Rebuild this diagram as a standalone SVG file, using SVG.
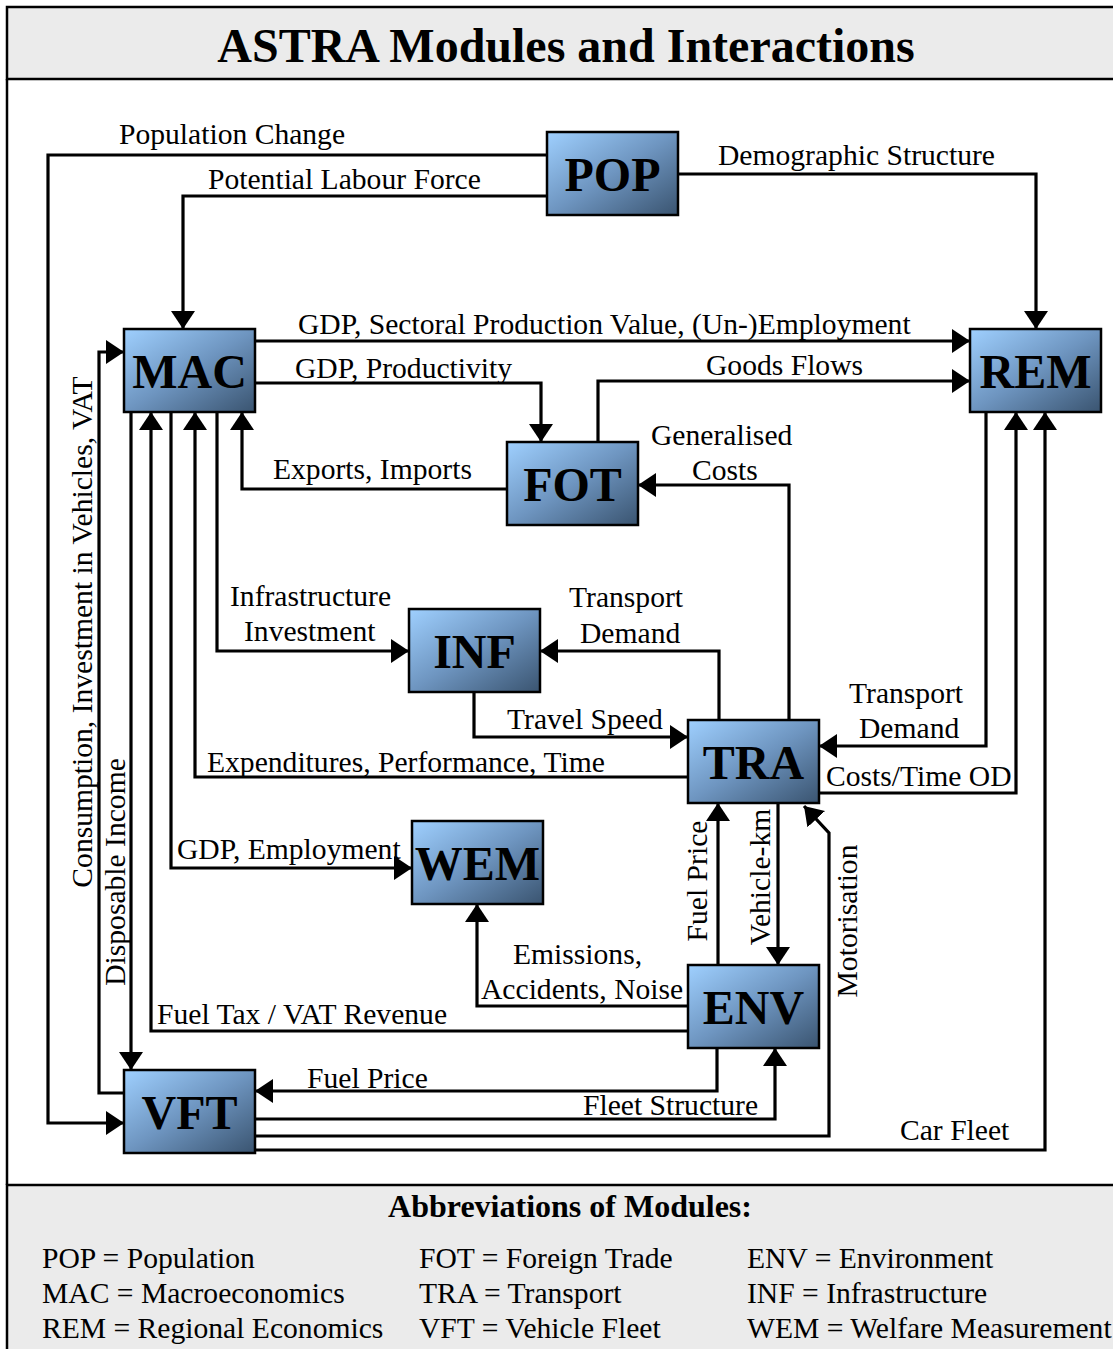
<svg xmlns="http://www.w3.org/2000/svg" width="1113" height="1349" viewBox="0 0 1113 1349">
<defs>
<linearGradient id="boxg" x1="0" y1="0" x2="1" y2="1">
<stop offset="0" stop-color="#9fd0ff"/>
<stop offset="0.5" stop-color="#6e95c0"/>
<stop offset="1" stop-color="#3a5470"/>
</linearGradient>
<marker id="arr" markerUnits="userSpaceOnUse" markerWidth="19" markerHeight="25" refX="18" refY="12" orient="auto">
<path d="M0,0 L18,12 L0,24 Z" fill="#000"/>
</marker>
</defs>
<style>
.box{fill:url(#boxg);stroke:#000;stroke-width:2.5}
.nl{font-family:"Liberation Serif","Times New Roman",serif;font-weight:bold;font-size:48px;text-anchor:middle;fill:#000}
.lb{font-family:"Liberation Serif","Times New Roman",serif;font-size:29.6px;fill:#000}
.c{fill:none;stroke:#000;stroke-width:3.2;marker-end:url(#arr)}
.frame{fill:#ebebeb;stroke:#000;stroke-width:2.5}
</style>
<rect x="0" y="0" width="1113" height="1349" fill="#fff"/>
<rect class="frame" x="7" y="7" width="1120" height="72"/>
<text x="566" y="62" font-family="'Liberation Serif','Times New Roman',serif" font-weight="bold" font-size="48" text-anchor="middle">ASTRA Modules and Interactions</text>
<line x1="7" y1="79" x2="7" y2="1185" stroke="#000" stroke-width="2.5"/>
<rect class="frame" x="7" y="1185" width="1120" height="180"/>
<g id="legend">
<text x="570" y="1217" font-family="'Liberation Serif','Times New Roman',serif" font-weight="bold" font-size="32" text-anchor="middle">Abbreviations of Modules:</text>
<text class="lb" x="42" y="1268">POP = Population</text>
<text class="lb" x="42" y="1303">MAC = Macroeconomics</text>
<text class="lb" x="42" y="1338">REM = Regional Economics</text>
<text class="lb" x="419" y="1268">FOT = Foreign Trade</text>
<text class="lb" x="419" y="1303">TRA = Transport</text>
<text class="lb" x="419" y="1338">VFT = Vehicle Fleet</text>
<text class="lb" x="747" y="1268">ENV = Environment</text>
<text class="lb" x="747" y="1303">INF = Infrastructure</text>
<text class="lb" x="747" y="1338">WEM = Welfare Measurement</text>
</g>
<g id="connectors">
<path class="c" d="M547,155 H48 V1123 H124"/>
<path class="c" d="M547,196 H183 V329"/>
<path class="c" d="M678,174 H1036 V329"/>
<path class="c" d="M255,341 H970"/>
<path class="c" d="M255,383 H541 V442"/>
<path class="c" d="M598,442 V381 H970"/>
<path class="c" d="M507,489 H242 V412"/>
<path class="c" d="M789,720 V485 H638"/>
<path class="c" d="M217,412 V651 H409"/>
<path class="c" d="M719,720 V651 H540"/>
<path class="c" d="M474,692 V737 H688"/>
<path class="c" d="M688,777 H195 V412"/>
<path class="c" d="M986,412 V746 H819"/>
<path class="c" d="M819,793 H1016 V412"/>
<path class="c" d="M171,412 V868 H412"/>
<path class="c" d="M688,1006 H477 V904"/>
<path class="c" d="M688,1031 H151 V412"/>
<path class="c" d="M131,412 V1070"/>
<path class="c" d="M124,1093 H99 V352 H124"/>
<path class="c" d="M718,965 V803"/>
<path class="c" d="M778,803 V965"/>
<path class="c" d="M255,1136 H829 V833 L804,806"/>
<path class="c" d="M717,1048 V1091 H255"/>
<path class="c" d="M255,1119 H775 V1048"/>
<path class="c" d="M255,1150 H1045 V412"/>
<text class="lb" x="119" y="144">Population Change</text>
<text class="lb" x="208" y="189">Potential Labour Force</text>
<text class="lb" x="718" y="165">Demographic Structure</text>
<text class="lb" x="298" y="334">GDP, Sectoral Production Value, (Un-)Employment</text>
<text class="lb" x="295" y="378">GDP, Productivity</text>
<text class="lb" x="706" y="375">Goods Flows</text>
<text class="lb" x="273" y="479">Exports, Imports</text>
<text class="lb" x="651" y="445">Generalised</text>
<text class="lb" x="692" y="480">Costs</text>
<text class="lb" x="230" y="606">Infrastructure</text>
<text class="lb" x="244" y="641">Investment</text>
<text class="lb" x="569" y="607">Transport</text>
<text class="lb" x="580" y="643">Demand</text>
<text class="lb" x="507" y="729">Travel Speed</text>
<text class="lb" x="207" y="772">Expenditures, Performance, Time</text>
<text class="lb" x="849" y="703">Transport</text>
<text class="lb" x="859" y="738">Demand</text>
<text class="lb" x="826" y="786">Costs/Time OD</text>
<text class="lb" x="177" y="859">GDP, Employment</text>
<text class="lb" x="513" y="964">Emissions,</text>
<text class="lb" x="481" y="999">Accidents, Noise</text>
<text class="lb" x="157" y="1024">Fuel Tax / VAT Revenue</text>
<text class="lb" x="307" y="1088">Fuel Price</text>
<text class="lb" x="583" y="1115">Fleet Structure</text>
<text class="lb" x="900" y="1140">Car Fleet</text>
<text class="lb" text-anchor="middle" transform="translate(92,632) rotate(-90)">Consumption, Investment in Vehicles, VAT</text>
<text class="lb" text-anchor="middle" transform="translate(125,872) rotate(-90)">Disposable Income</text>
<text class="lb" text-anchor="middle" transform="translate(707,881) rotate(-90)">Fuel Price</text>
<text class="lb" text-anchor="middle" transform="translate(770,877) rotate(-90)">Vehicle-km</text>
<text class="lb" text-anchor="middle" transform="translate(857,921) rotate(-90)">Motorisation</text>
</g>
<g id="POP"><rect class="box" x="547" y="132" width="131" height="83"/><text class="nl" x="612.5" y="191">POP</text></g>
<g id="MAC"><rect class="box" x="124" y="329" width="131" height="83"/><text class="nl" x="189.5" y="388">MAC</text></g>
<g id="REM"><rect class="box" x="970" y="329" width="131" height="83"/><text class="nl" x="1035.5" y="388">REM</text></g>
<g id="FOT"><rect class="box" x="507" y="442" width="131" height="83"/><text class="nl" x="572.5" y="501">FOT</text></g>
<g id="INF"><rect class="box" x="409" y="609" width="131" height="83"/><text class="nl" x="474.5" y="668">INF</text></g>
<g id="TRA"><rect class="box" x="688" y="720" width="131" height="83"/><text class="nl" x="753.5" y="779">TRA</text></g>
<g id="WEM"><rect class="box" x="412" y="821" width="131" height="83"/><text class="nl" x="477.5" y="880">WEM</text></g>
<g id="ENV"><rect class="box" x="688" y="965" width="131" height="83"/><text class="nl" x="753.5" y="1024">ENV</text></g>
<g id="VFT"><rect class="box" x="124" y="1070" width="131" height="83"/><text class="nl" x="189.5" y="1129">VFT</text></g>
</svg>
